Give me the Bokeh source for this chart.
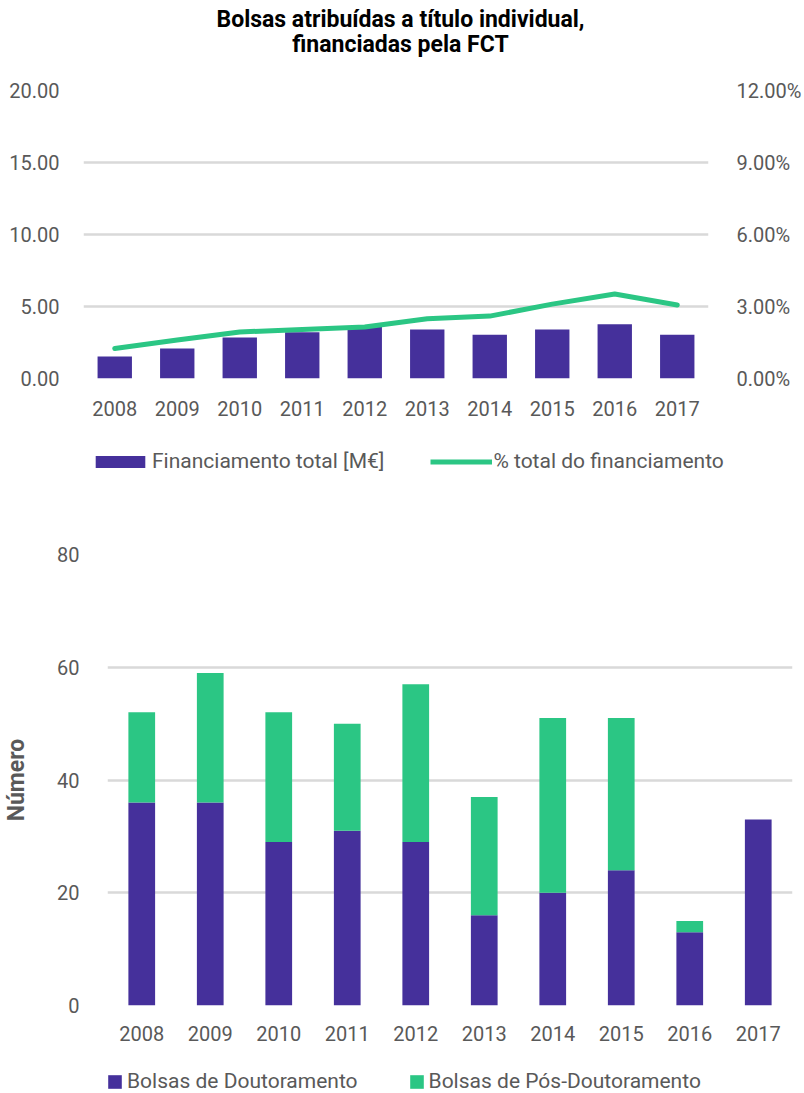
from bokeh.plotting import figure
from bokeh.models import (Range1d, LinearAxis, FixedTicker, PrintfTickFormatter,
                          Legend, LegendItem, Label, ColumnDataSource)
from bokeh.layouts import column
from bokeh.embed import file_html
from bokeh.resources import INLINE

# ---------------- data ----------------
years = ["2008", "2009", "2010", "2011", "2012", "2013", "2014", "2015", "2016", "2017"]
financiamento = [1.52, 2.08, 2.84, 3.21, 3.59, 3.40, 3.03, 3.40, 3.77, 3.03]   # M€
percentagem = [1.25, 1.60, 1.94, 2.04, 2.15, 2.49, 2.60, 3.10, 3.52, 3.06]    # %
doutoramento = [36, 36, 29, 31, 29, 16, 20, 24, 13, 33]
pos_doutoramento = [16, 23, 23, 19, 28, 21, 31, 27, 2, 0]
left_ticks = [0, 5, 10, 15, 20]
right_ticks = [0, 3, 6, 9, 12]
bottom_ticks = [0, 20, 40, 60, 80]
title_lines = ["Bolsas atribuídas a título individual,", "financiadas pela FCT"]
legend_top = ["Financiamento total [M€]", "% total do financiamento"]
legend_bottom = ["Bolsas de Doutoramento", "Bolsas de Pós-Doutoramento"]

PURPLE = "#45309B"
GREEN = "#2BC684"
GRID = "#D9D9D9"
TXT = "#595959"
FONT = "Roboto"
FS = "20px"
LFS = "21px"


def style_axis(ax):
    ax.axis_line_color = None
    ax.major_tick_line_color = None
    ax.minor_tick_line_color = None
    ax.major_label_text_font = FONT
    ax.major_label_text_font_size = FS
    ax.major_label_text_color = TXT


def strip_figure(height, x_range=None):
    f = figure(width=804, height=height,
               x_range=x_range if x_range is not None else Range1d(0, 1),
               y_range=Range1d(-2, -1),
               output_backend="svg", toolbar_location=None,
               x_axis_location=None, y_axis_location=None,
               min_border_left=0, min_border_right=0, min_border_top=0, min_border_bottom=0)
    f.grid.visible = False
    f.outline_line_color = None
    return f


# ---------------- title strip ----------------
tf = strip_figure(60)
for i, line in enumerate(title_lines):
    tf.add_layout(Label(x=400, y=41 - 25 * i, x_units="screen", y_units="screen",
                        text=line, text_align="center", text_baseline="middle",
                        text_font=FONT, text_font_size="23px", text_font_style="bold",
                        text_color="black"))

# ---------------- top chart ----------------
p1 = figure(x_range=years, y_range=Range1d(0, 20), width=804, height=380,
            output_backend="svg", toolbar_location=None,
            min_border_left=83, min_border_right=91, min_border_top=30, min_border_bottom=62)
p1.extra_y_ranges = {"pct": Range1d(0, 12)}
p1.x_range.range_padding = 0

p1.vbar(x=years, top=financiamento, width=0.55, fill_color=PURPLE, line_color=None)
p1.line(x=years, y=percentagem, y_range_name="pct", line_width=5, line_color=GREEN,
        line_cap="round", line_join="round")

p1.yaxis.ticker = FixedTicker(ticks=left_ticks)
p1.yaxis.formatter = PrintfTickFormatter(format="%.2f")
p1.yaxis.major_label_standoff = 18
p1.xaxis.major_label_standoff = 16
style_axis(p1.yaxis[0])
style_axis(p1.xaxis[0])

rax = LinearAxis(y_range_name="pct", ticker=FixedTicker(ticks=right_ticks),
                 formatter=PrintfTickFormatter(format="%.2f%%"))
style_axis(rax)
rax.major_label_standoff = 22
p1.add_layout(rax, "right")

p1.xgrid.grid_line_color = None
p1.ygrid.grid_line_color = GRID
p1.ygrid.grid_line_width = 2.5
p1.outline_line_color = None

# legend strip of the top chart (hidden series, used only for the keys)
lf1 = strip_figure(50, x_range=years)
sw_bar = lf1.vbar(x=years, top=financiamento, width=0.5, fill_color=PURPLE, line_color=None)
sw_line = lf1.line(x=years, y=percentagem, line_width=5, line_color=GREEN, line_cap="butt")
sw_bar.visible = False
sw_line.visible = False
leg1 = Legend(items=[LegendItem(label=legend_top[0], renderers=[sw_bar]),
                     LegendItem(label=legend_top[1], renderers=[sw_line])],
              orientation="horizontal", location=(89, 17), click_policy="none",
              label_text_font=FONT, label_text_font_size=LFS, label_text_color=TXT,
              glyph_width=62, glyph_height=15, spacing=46, label_standoff=1,
              border_line_color=None, background_fill_alpha=0, padding=0, margin=0)
lf1.add_layout(leg1)

# ---------------- bottom chart ----------------
src = ColumnDataSource(dict(years=years, dout=doutoramento, pos=pos_doutoramento))
p2 = figure(x_range=years, y_range=Range1d(0, 80), width=804, height=569,
            output_backend="svg", toolbar_location=None,
            min_border_left=107, min_border_right=12, min_border_top=64, min_border_bottom=54)
p2.x_range.range_padding = 0
p2.vbar_stack(["dout", "pos"], x="years", width=0.39, color=[PURPLE, GREEN],
              line_color=None, source=src)

p2.yaxis.ticker = FixedTicker(ticks=bottom_ticks)
p2.yaxis.major_label_standoff = 22
p2.xaxis.major_label_standoff = 14
style_axis(p2.yaxis[0])
style_axis(p2.xaxis[0])
p2.yaxis.axis_label = "Número"
p2.yaxis.axis_label_text_font = FONT
p2.yaxis.axis_label_text_font_size = "23px"
p2.yaxis.axis_label_text_font_style = "bold"
p2.yaxis.axis_label_text_color = TXT
p2.yaxis.axis_label_standoff = 24

p2.xgrid.grid_line_color = None
p2.ygrid.grid_line_color = GRID
p2.ygrid.grid_line_width = 2.5
p2.outline_line_color = None

lf2 = strip_figure(34, x_range=years)
sw = lf2.vbar_stack(["dout", "pos"], x="years", width=0.39, color=[PURPLE, GREEN],
                    line_color=None, source=src)
for r in sw:
    r.visible = False
leg2 = Legend(items=[LegendItem(label=legend_bottom[0], renderers=[sw[0]]),
                     LegendItem(label=legend_bottom[1], renderers=[sw[1]])],
              orientation="horizontal", location=(106, 0), click_policy="none",
              label_text_font=FONT, label_text_font_size=LFS, label_text_color=TXT,
              glyph_width=17, glyph_height=17, spacing=50, label_standoff=4,
              border_line_color=None, background_fill_alpha=0, padding=0, margin=0)
lf2.add_layout(leg2)

figs = [tf, p1, lf1, p2, lf2]
if "frame_align" in p1.properties():
    for f in figs:
        f.frame_align = False
    out = column(*figs)
else:
    out = figs

open("out.html", "w").write(file_html(out, INLINE))
